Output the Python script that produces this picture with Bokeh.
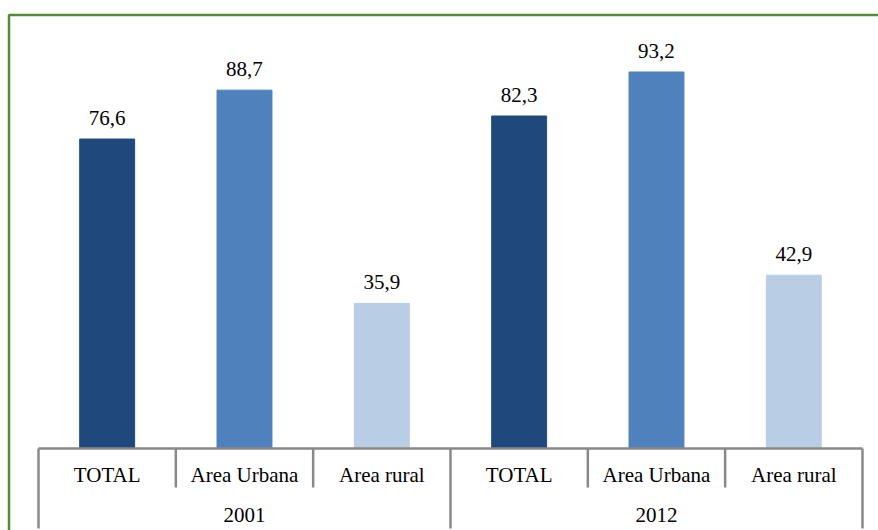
from bokeh.plotting import figure
from bokeh.models import Range1d, ColumnDataSource
from bokeh.core.properties import value
from bokeh.embed import file_html
from bokeh.resources import INLINE

# ---- data ----
years = ["2001", "2012"]
categories = ["TOTAL", "Area Urbana", "Area rural"]
values_2001 = [76.6, 88.7, 35.9]
values_2012 = [82.3, 93.2, 42.9]
colors = ["#1F497D", "#4F81BD", "#B9CDE5"]

# ---- layout constants (pixels) ----
W, H = 878, 530
px_per_unit_y = 4.04
px_per_cat = 137.33
zero_px = 448          # canvas y (from top) of value 0
left_px = 38           # canvas x of category 0
y_top = zero_px / px_per_unit_y
y_bot = -(H - zero_px) / px_per_unit_y
x_left = -left_px / px_per_cat
x_right = x_left + W / px_per_cat

def dy(px):  # pixels below the zero line -> data units
    return -px / px_per_unit_y

FONT = value("Liberation Serif")
FSIZE = "21px"

p = figure(width=W, height=H, x_range=Range1d(x_left, x_right), y_range=Range1d(y_bot, y_top),
           x_axis_type=None, y_axis_type=None, toolbar_location=None, output_backend="svg",
           min_border=0, outline_line_color=None)
p.grid.visible = False
p.background_fill_color = "white"
p.border_fill_color = "white"

xs, tops, cols, labels = [], [], [], []
cat_x, cat_text = [], []
for gi, vals in enumerate([values_2001, values_2012]):
    for ci, v in enumerate(vals):
        idx = gi * len(categories) + ci
        xs.append(idx + 0.5)
        tops.append(v)
        cols.append(colors[ci])
        labels.append(f"{v:.1f}".replace(".", ","))
        cat_x.append(idx + 0.5)
        cat_text.append(categories[ci])

src = ColumnDataSource(dict(x=xs, top=tops, color=cols, label=labels))
p.vbar(x="x", top="top", width=0.4, color="color", source=src)
p.text(x="x", y="top", text="label", source=src, text_align="center", text_baseline="middle",
       y_offset=-21, text_font=FONT, text_font_size=FSIZE, text_color="#000000")

n = len(categories) * len(years)
axis_color = "#898989"
# horizontal axis line
p.line(x=[0, n], y=[0, 0], line_color=axis_color, line_width=2.5)
# separators
for k in range(n + 1):
    if k % len(categories) == 0:
        p.line(x=[k, k], y=[0, dy(80)], line_color=axis_color, line_width=2.5)
    else:
        p.line(x=[k, k], y=[0, dy(39)], line_color=axis_color, line_width=2.5)

# category labels
p.text(x=cat_x, y=[dy(26)] * len(cat_x), text=cat_text, text_align="center", text_baseline="middle",
       text_font=FONT, text_font_size=FSIZE, text_color="#000000")
# year labels
year_x = [gi * len(categories) + len(categories) / 2 for gi in range(len(years))]
p.text(x=year_x, y=[dy(66)] * len(years), text=years, text_align="center", text_baseline="middle",
       text_font=FONT, text_font_size=FSIZE, text_color="#000000")

# green frame border (left and top)
bx = x_left + 8.5 / px_per_cat
by = y_top - 14.5 / px_per_unit_y
p.line(x=[bx, bx, x_right + 1], y=[y_bot - 5, by, by], line_color="#578A34", line_width=2.5)

open("out.html", "w").write(file_html(p, INLINE))
